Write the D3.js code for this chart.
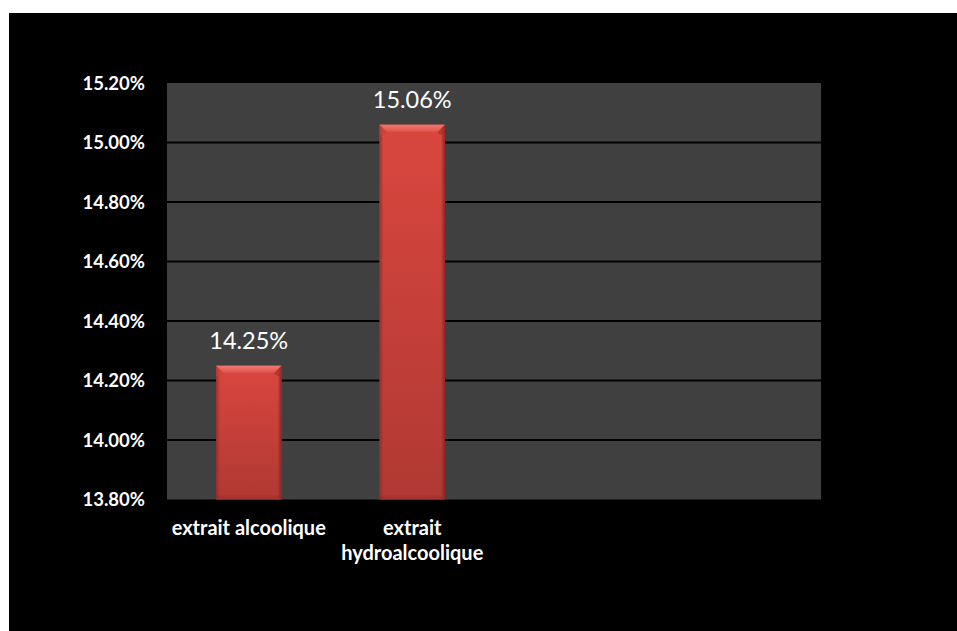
<!DOCTYPE html>
<html>
<head>
<meta charset="utf-8">
<script src="https://cdn.jsdelivr.net/npm/d3@7"></script>
<style>
  html, body { margin: 0; padding: 0; background: #ffffff; }
  svg { display: block; }
</style>
</head>
<body>
<svg id="chart" width="957" height="631"></svg>
<script>
// Extraction yield per extract type
const categories = ["extrait alcoolique", "extrait hydroalcoolique"];
const values = [14.25, 15.06];
const valueLabels = ["14.25%", "15.06%"];
const slotCount = 4; // category slots on the x axis (two are empty)
const yTicks = [13.8, 14.0, 14.2, 14.4, 14.6, 14.8, 15.0, 15.2];
const yTickLabels = ["13.80%", "14.00%", "14.20%", "14.40%", "14.60%", "14.80%", "15.00%", "15.20%"];

const svg = d3.select("#chart");
const W = 957, H = 631;
const plot = { left: 167, top: 83, right: 821, bottom: 499.5 };

// black chart background
svg.append("rect").attr("x", 9).attr("y", 13).attr("width", W - 9).attr("height", H - 13).attr("fill", "#000");

const x = d3.scaleBand().domain(d3.range(slotCount)).range([plot.left, plot.right]).paddingInner(0).paddingOuter(0);
const y = d3.scaleLinear().domain([13.8, 15.2]).range([plot.bottom, plot.top]);

// plot area
svg.append("rect").attr("x", plot.left).attr("y", plot.top)
  .attr("width", plot.right - plot.left).attr("height", plot.bottom - plot.top)
  .attr("fill", "#404040");

// gridlines
svg.append("g").selectAll("line").data(yTicks.slice(1, -1)).join("line")
  .attr("x1", plot.left).attr("x2", plot.right)
  .attr("y1", d => y(d)).attr("y2", d => y(d))
  .attr("stroke", "#000").attr("stroke-width", 2);

// y axis tick labels
const yAxis = d3.axisLeft(y).tickValues(yTicks).tickFormat((d, i) => yTickLabels[i]).tickSize(0).tickPadding(22);
const gy = svg.append("g").attr("transform", `translate(${plot.left},0)`).call(yAxis);
gy.select(".domain").remove();
gy.selectAll("text").attr("fill", "#fff").attr("font-family", "Lato, 'Open Sans', sans-serif")
  .attr("font-weight", "bold").attr("font-size", 18.5).attr("dy", "0.35em");

// gradients for the bevelled bars
const defs = svg.append("defs");
const g1 = defs.append("linearGradient").attr("id", "barFill").attr("x1", 0).attr("y1", 0).attr("x2", 0).attr("y2", 1);
g1.append("stop").attr("offset", "0").attr("stop-color", "#d9473f");
g1.append("stop").attr("offset", "1").attr("stop-color", "#b13833");
const g2 = defs.append("linearGradient").attr("id", "sideL").attr("x1", 0).attr("y1", 0).attr("x2", 1).attr("y2", 0);
g2.append("stop").attr("offset", "0").attr("stop-color", "#8e2a27").attr("stop-opacity", 0.8);
g2.append("stop").attr("offset", "1").attr("stop-color", "#8e2a27").attr("stop-opacity", 0);
const g3 = defs.append("linearGradient").attr("id", "sideR").attr("x1", 1).attr("y1", 0).attr("x2", 0).attr("y2", 0);
g3.append("stop").attr("offset", "0").attr("stop-color", "#7e2523").attr("stop-opacity", 0.9);
g3.append("stop").attr("offset", "1").attr("stop-color", "#7e2523").attr("stop-opacity", 0);
const g4 = defs.append("linearGradient").attr("id", "bevelTop").attr("x1", 0).attr("y1", 0).attr("x2", 0).attr("y2", 1);
g4.append("stop").attr("offset", "0").attr("stop-color", "#f07a72");
g4.append("stop").attr("offset", "1").attr("stop-color", "#e0544c");

const barW = x.bandwidth() / 2.5;
const bars = svg.append("g").selectAll("g").data(values).join("g")
  .attr("transform", (d, i) => `translate(${x(i) + (x.bandwidth() - barW) / 2},${y(d)})`);

bars.append("rect").attr("width", barW).attr("height", d => plot.bottom - y(d)).attr("fill", "url(#barFill)");
// side shading
bars.append("rect").attr("width", 4).attr("height", d => plot.bottom - y(d)).attr("fill", "url(#sideL)");
bars.append("rect").attr("x", barW - 4).attr("width", 4).attr("height", d => plot.bottom - y(d)).attr("fill", "url(#sideR)");
// bottom shading
bars.append("rect").attr("y", d => plot.bottom - y(d) - 4).attr("width", barW).attr("height", 4)
  .attr("fill", "#8e2a27").attr("opacity", 0.35);
// top bevel
const bv = 7;
bars.append("path").attr("d", `M0,0 L${barW},0 L${barW - bv},${bv} L${bv},${bv} Z`).attr("fill", "url(#bevelTop)");
bars.append("path").attr("d", `M0,0 L${bv},${bv} L${bv},${bv + 2} L0,${bv + 4} Z`).attr("fill", "#c9413a").attr("opacity", 0.6);
bars.append("path").attr("d", `M${barW},0 L${barW - bv},${bv} L${barW - bv},${bv + 2} L${barW},${bv + 4} Z`).attr("fill", "#9e302c").attr("opacity", 0.6);

// value labels
svg.append("g").selectAll("text").data(values).join("text")
  .attr("x", (d, i) => x(i) + x.bandwidth() / 2)
  .attr("y", d => y(d) - 17)
  .attr("text-anchor", "middle")
  .attr("fill", "#fff").attr("font-family", "Lato, 'Open Sans', sans-serif").attr("font-size", 23.5)
  .text((d, i) => valueLabels[i]);

// category labels, wrapped to the band width
const catG = svg.append("g");
categories.forEach((c, i) => {
  const cx = x(i) + x.bandwidth() / 2;
  const t = catG.append("text")
    .attr("x", cx).attr("y", 535)
    .attr("text-anchor", "middle").attr("fill", "#fff")
    .attr("font-family", "Lato, 'Open Sans', sans-serif").attr("font-weight", "bold").attr("font-size", 20);
  const words = c.split(" ");
  let line = [];
  let ts = t.append("tspan").attr("x", cx).attr("dy", 0);
  words.forEach(w => {
    line.push(w);
    ts.text(line.join(" "));
    if (ts.node().getComputedTextLength() > x.bandwidth() - 2 && line.length > 1) {
      line.pop();
      ts.text(line.join(" "));
      line = [w];
      ts = t.append("tspan").attr("x", cx).attr("dy", 25).text(w);
    }
  });
});
</script>
</body>
</html>
